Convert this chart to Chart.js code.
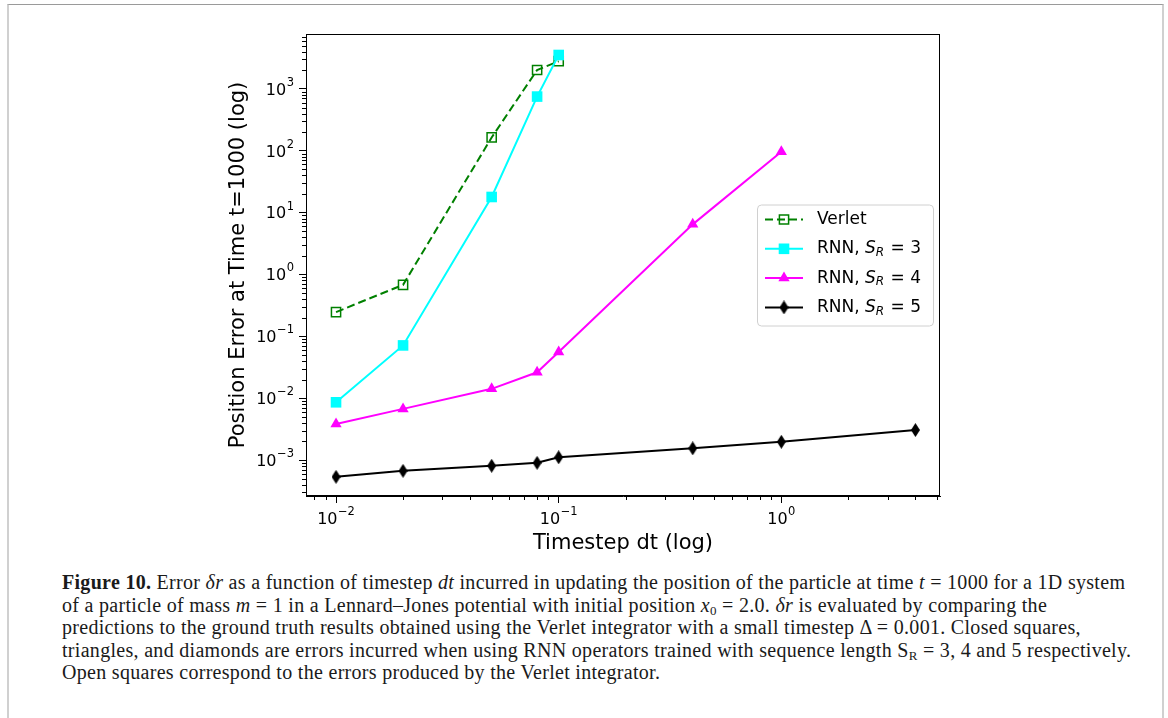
<!DOCTYPE html>
<html>
<head>
<meta charset="utf-8">
<script src="https://cdn.jsdelivr.net/npm/chart.js@4.4.0/dist/chart.umd.min.js"></script>
<style>
  html, body { margin: 0; padding: 0; background: #fff; }
  body { width: 1168px; height: 718px; position: relative; overflow: hidden; }
  .frame {
    position: absolute; left: 7px; top: 4px; width: 1157px; height: 730px;
    border-top: 1px solid #9a9a9a; border-left: 2px solid #d0d0d0; border-right: 2px solid #d0d0d0;
    box-sizing: border-box;
  }
  #wrap { position: absolute; left: 0; top: 0; width: 1168px; height: 560px; }
  .caption {
    position: absolute; left: 62px; top: 571px;
    font-family: "Liberation Serif", serif; font-size: 20px; line-height: 22.5px;
    letter-spacing: 0.3px; color: #1a1a1a; white-space: nowrap;
  }
  .caption i { font-style: italic; }
  .caption sub { font-size: 13px; vertical-align: -3px; line-height: 0; }
</style>
</head>
<body>
<div class="frame"></div>
<div id="wrap"><canvas id="chart" width="1168" height="560"></canvas></div>
<div class="caption">
<b>Figure 10.</b> Error <i>δr</i> as a function of timestep <i>dt</i> incurred in updating the position of the particle at time <i>t</i> = 1000 for a 1D system<br>
of a particle of mass <i>m</i> = 1 in a Lennard–Jones potential with initial position <i>x</i><sub>0</sub> = 2.0. <i>δr</i> is evaluated by comparing the<br>
predictions to the ground truth results obtained using the Verlet integrator with a small timestep Δ = 0.001. Closed squares,<br>
triangles, and diamonds are errors incurred when using RNN operators trained with sequence length S<sub>R</sub> = 3, 4 and 5 respectively.<br>
Open squares correspond to the errors produced by the Verlet integrator.
</div>
<script>
// data
const dtShort = [0.01, 0.02, 0.05, 0.08, 0.1];
const dtMid = [0.01, 0.02, 0.05, 0.08, 0.1, 0.4, 1.0];
const dtLong = [0.01, 0.02, 0.05, 0.08, 0.1, 0.4, 1.0, 4.0];

const verletErr = [0.247, 0.68, 164, 2020, 2800];
const rnn3Err = [0.0086, 0.0714, 17.9, 751, 3530];
const rnn4Err = [0.00384, 0.00673, 0.0142, 0.0263, 0.0557, 6.46, 96];
const rnn5Err = [0.000537, 0.000671, 0.000809, 0.000904, 0.00111, 0.00155, 0.00198, 0.00306];

const seriesNames = ['Verlet', 'RNN, S_R = 3', 'RNN, S_R = 4', 'RNN, S_R = 5'];

const xMajorTicks = [0.01, 0.1, 1];
const xTickLabels = ['10^−2', '10^−1', '10^0'];
const yMajorTicks = [1e-3, 1e-2, 1e-1, 1, 10, 100, 1000];
const yTickLabels = ['10^−3', '10^−2', '10^−1', '10^0', '10^1', '10^2', '10^3'];

const xTitle = 'Timestep dt (log)';
const yTitle = 'Position Error at Time t=1000 (log)';

const FONT = "'DejaVu Sans', sans-serif";

// thin diamond marker (matplotlib 'd')
function thinDiamond(w, h, color) {
  const c = document.createElement('canvas');
  c.width = w; c.height = h;
  const g = c.getContext('2d');
  g.fillStyle = color;
  g.beginPath();
  g.moveTo(w / 2, 0);
  g.lineTo(w, h / 2);
  g.lineTo(w / 2, h);
  g.lineTo(0, h / 2);
  g.closePath();
  g.fill();
  return c;
}
const diamond = thinDiamond(9, 14, '#000');

function pts(xs, ys) {
  return xs.map((x, i) => ({ x: x, y: ys[i] }));
}

function isPow10(v) {
  const l = Math.log10(v);
  return Math.abs(l - Math.round(l)) < 1e-6;
}

function labelFor(v, majors, labels) {
  const i = majors.findIndex(m => Math.abs(Math.log10(m) - Math.log10(v)) < 1e-6);
  return i >= 0 ? labels[i] : '';
}

// all 1..9 x 10^n ticks inside [min, max]
function logTicks(min, max) {
  const out = [];
  for (let e = Math.floor(Math.log10(min)); e <= Math.ceil(Math.log10(max)); e++) {
    for (let m = 1; m <= 9; m++) {
      const v = m * Math.pow(10, e);
      if (v >= min && v <= max) out.push({ value: v });
    }
  }
  return out;
}

const datasets = [
  {
    label: seriesNames[0], data: pts(dtShort, verletErr), order: 4,
    borderColor: '#008000', borderWidth: 2, borderDash: [8, 4],
    pointStyle: 'rect', pointRadius: 6.5, pointBorderWidth: 1.5,
    pointBorderColor: '#008000', pointBackgroundColor: 'rgba(0,0,0,0)'
  },
  {
    label: seriesNames[1], data: pts(dtShort, rnn3Err), order: 3,
    borderColor: '#00ffff', borderWidth: 2,
    pointStyle: 'rect', pointRadius: 7.5, pointBorderWidth: 0,
    pointBackgroundColor: '#00ffff'
  },
  {
    label: seriesNames[2], data: pts(dtMid, rnn4Err), order: 2,
    borderColor: '#ff00ff', borderWidth: 2,
    pointStyle: 'triangle', pointRadius: 6.5, pointBorderWidth: 0,
    pointBackgroundColor: '#ff00ff'
  },
  {
    label: seriesNames[3], data: pts(dtLong, rnn5Err), order: 1,
    borderColor: '#000000', borderWidth: 2,
    pointStyle: diamond, pointRadius: 7, pointBorderWidth: 0,
    pointBackgroundColor: '#000000'
  }
];

function drawLabel(ctx, text, x, y) {
  // "S_R" -> italic S with subscript R
  const parts = text.split('S_R');
  ctx.font = '17px ' + FONT;
  ctx.fillText(parts[0], x, y);
  if (parts.length < 2) return;
  x += ctx.measureText(parts[0]).width;
  ctx.font = 'italic 17px ' + FONT;
  ctx.fillText('S', x, y);
  x += ctx.measureText('S').width;
  ctx.font = 'italic 12px ' + FONT;
  ctx.fillText('R', x, y + 4);
  x += ctx.measureText('R').width + 1;
  ctx.font = '17px ' + FONT;
  ctx.fillText(parts[1], x, y);
}

// "10^−2" drawn as base + raised exponent; align 'right' or 'center'
function drawPow(ctx, label, x, y, align) {
  const [base, exp] = label.split('^');
  ctx.font = '16px ' + FONT;
  const bw = ctx.measureText(base).width;
  ctx.font = '11.5px ' + FONT;
  const ew = ctx.measureText(exp).width;
  const total = bw + ew + 0.5;
  let x0 = align === 'right' ? x - total : x - total / 2;
  ctx.textAlign = 'left';
  ctx.textBaseline = 'alphabetic';
  ctx.font = '16px ' + FONT;
  ctx.fillText(base, x0, y + 5.8);
  ctx.font = '11.5px ' + FONT;
  ctx.fillText(exp, x0 + bw + 0.5, y - 3);
}

const framePlugin = {
  id: 'framePlugin',
  afterDraw(chart) {
    const { ctx, chartArea: a, scales } = chart;
    ctx.save();
    // full box around the axes
    ctx.strokeStyle = '#000';
    ctx.lineWidth = 1;
    ctx.strokeRect(Math.round(a.left) + 0.5, Math.round(a.top) + 0.5,
      Math.round(a.right - a.left) - 1, Math.round(a.bottom - a.top) - 1);

    // minor ticks
    ctx.beginPath();
    scales.x.ticks.forEach(t => {
      if (isPow10(t.value)) return;
      const px = Math.round(scales.x.getPixelForValue(t.value)) + 0.5;
      ctx.moveTo(px, a.bottom);
      ctx.lineTo(px, a.bottom + 4);
    });
    scales.y.ticks.forEach(t => {
      if (isPow10(t.value)) return;
      const py = Math.round(scales.y.getPixelForValue(t.value)) + 0.5;
      ctx.moveTo(a.left, py);
      ctx.lineTo(a.left - 4, py);
    });
    ctx.stroke();

    // major tick labels with superscript exponents
    ctx.fillStyle = '#000';
    scales.x.ticks.forEach(t => {
      const lab = labelFor(t.value, xMajorTicks, xTickLabels);
      if (lab) drawPow(ctx, lab, scales.x.getPixelForValue(t.value), a.bottom + 22, 'center');
    });
    scales.y.ticks.forEach(t => {
      const lab = labelFor(t.value, yMajorTicks, yTickLabels);
      if (lab) drawPow(ctx, lab, a.left - 12, scales.y.getPixelForValue(t.value), 'right');
    });

    // legend, center right
    const w = 176, h = 121;
    const lx = a.right - 7 - w;
    const ly = (a.top + a.bottom) / 2 - h / 2;
    ctx.fillStyle = 'rgba(255,255,255,0.85)';
    ctx.strokeStyle = '#d0d0d0';
    ctx.beginPath();
    ctx.roundRect(lx + 0.5, ly + 0.5, w, h, 4);
    ctx.fill();
    ctx.stroke();

    chart.data.datasets.forEach((ds, i) => {
      const cy = ly + 15 + i * 29.3;
      ctx.strokeStyle = ds.borderColor;
      ctx.lineWidth = ds.borderWidth;
      ctx.setLineDash(ds.borderDash || []);
      ctx.beginPath();
      ctx.moveTo(lx + 8, cy);
      ctx.lineTo(lx + 46, cy);
      ctx.stroke();
      ctx.setLineDash([]);
      ctx.fillStyle = ds.pointBackgroundColor;
      ctx.strokeStyle = ds.pointBorderColor || ds.borderColor;
      ctx.lineWidth = ds.pointBorderWidth;
      Chart.helpers.drawPoint(ctx, {
        pointStyle: ds.pointStyle, radius: ds.pointRadius,
        borderWidth: ds.pointBorderWidth, rotation: 0
      }, lx + 27, cy);
      ctx.fillStyle = '#000';
      ctx.textBaseline = 'middle';
      ctx.textAlign = 'left';
      drawLabel(ctx, ds.label, lx + 60, cy);
    });
    ctx.restore();
  }
};

const tickColor = ctx => (ctx.tick && isPow10(ctx.tick.value)) ? '#000' : 'rgba(0,0,0,0)';

new Chart(document.getElementById('chart'), {
  type: 'line',
  data: { datasets: datasets },
  options: {
    responsive: false,
    animation: false,
    layout: { padding: { left: 216, top: 34, right: 228, bottom: 4 } },
    plugins: { legend: { display: false }, tooltip: { enabled: false } },
    elements: { line: { tension: 0 } },
    scales: {
      x: {
        type: 'logarithmic',
        min: 0.00733, max: 5.16,
        afterFit: s => { s.height = 60; },
        afterBuildTicks: s => { s.ticks = logTicks(s.min, s.max); },
        grid: { drawOnChartArea: false, tickLength: 7, tickColor: tickColor, tickWidth: 1 },
        border: { color: '#000', width: 1 },
        ticks: { display: false, autoSkip: false, maxRotation: 0 },
        title: {
          display: true, text: xTitle, color: '#000',
          font: { family: FONT, size: 21 }, padding: { top: 3, bottom: 0 }
        }
      },
      y: {
        type: 'logarithmic',
        min: 0.000263, max: 7709,
        afterFit: s => { s.width = 90; },
        afterBuildTicks: s => { s.ticks = logTicks(s.min, s.max); },
        grid: { drawOnChartArea: false, tickLength: 7, tickColor: tickColor, tickWidth: 1 },
        border: { color: '#000', width: 1 },
        ticks: { display: false, autoSkip: false },
        title: {
          display: true, text: yTitle, color: '#000',
          font: { family: FONT, size: 21 }, padding: { top: 10, bottom: 0 }
        }
      }
    }
  },
  plugins: [framePlugin]
});
</script>
</body>
</html>
